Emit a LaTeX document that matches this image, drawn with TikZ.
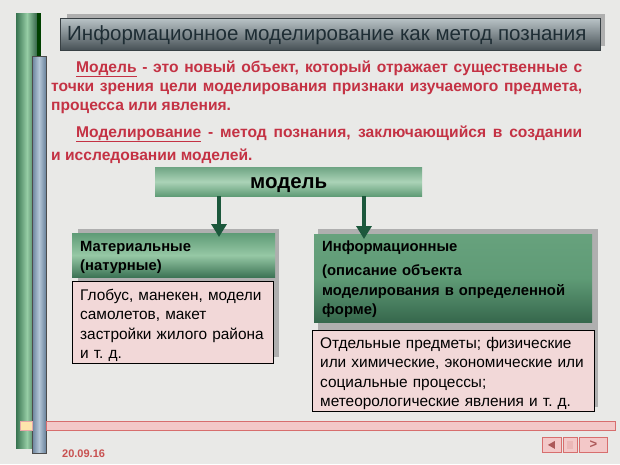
\documentclass[tikz,border=0pt]{standalone}
\usepackage{fontspec}
\setmainfont{Liberation Sans}
\usetikzlibrary{arrows.meta,calc}
\definecolor{bgc}{RGB}{233,233,231}
\definecolor{redtxt}{RGB}{196,50,68}
\definecolor{gtop}{RGB}{95,155,118}
\definecolor{gmid}{RGB}{150,200,165}
\definecolor{gbot}{RGB}{60,115,85}
\definecolor{garrow}{RGB}{28,88,60}
\definecolor{pinkc}{RGB}{242,216,216}
\definecolor{shadowc}{RGB}{175,175,175}
\definecolor{ttop}{RGB}{185,195,198}
\definecolor{tmid}{RGB}{128,138,142}
\definecolor{tbot}{RGB}{70,80,85}
\definecolor{ttxt}{RGB}{30,45,52}
\definecolor{barg1}{RGB}{55,115,80}
\definecolor{barg2}{RGB}{150,205,165}
\definecolor{barb1}{RGB}{105,130,155}
\definecolor{barb2}{RGB}{180,198,215}
\definecolor{linepink}{RGB}{243,200,200}
\definecolor{linered}{RGB}{215,110,110}
\definecolor{datec}{RGB}{200,80,80}
\tikzset{
  redline/.style={anchor=base west, inner sep=0pt, text=redtxt, font=\fontsize{15.6}{19}\selectfont\bfseries},
  header/.style={anchor=north west, draw=none, top color=gtop, bottom color=gbot, middle color=gmid,
     inner xsep=8pt, inner ysep=0pt, align=left, text=black,
     font=\fontsize{14.8}{19.5}\selectfont\bfseries},
  pinkbox/.style={anchor=north west, draw=black, line width=1.3pt, fill=pinkc,
     inner xsep=7pt, inner ysep=0pt, align=left, text=black,
     font=\fontsize{15.4}{19.5}\selectfont},
  arr/.style={draw=garrow, line width=4.5pt, -{Triangle[width=15pt,length=13pt]}},
  navbtn/.style={draw=linered, fill=linepink, line width=0.8pt}
}
\newcommand{\tstrut}[1]{\rule{0pt}{#1pt}}
\begin{document}
\begin{tikzpicture}[x=1pt,y=-1pt]
\useasboundingbox (0,0) rectangle (620,464);
\fill[bgc] (0,0) rectangle (620,464);

% left decorative bars
\shade[left color=barg1, right color=barg1!80!black, middle color=barg2] (16,13) rectangle (38,448);
\fill[black!75!green] (37,13) rectangle (41,448);
\shade[left color=barb1, right color=barb1, middle color=barb2, draw=black!70] (32,56) rectangle (46,453);

% bottom line
\fill[linepink, draw=linered, line width=0.8pt] (46,421) rectangle (615,430);
\fill[yellow!40!orange!30!white, draw=linered!60] (20,421) rectangle (32,430);

% title
\fill[shadowc] (67,14) rectangle (605,46);
\node[anchor=north west, minimum width=540pt, minimum height=32pt, inner sep=0pt,
      top color=ttop, bottom color=tbot, middle color=tmid, draw=tbot!80!black, line width=0.6pt] (titlebar) at (60,18) {};
\node[anchor=west, inner sep=0pt, text=ttxt, font=\fontsize{20.5}{24}\selectfont] (title) at ($(titlebar.west)+(7,1)$)
  {Информационное моделирование как метод познания};

% red definitions
\node[redline] (l1) at (76,72) {\makebox[506pt][s]{\underline{Модель} - это новый объект, который отражает существенные с}};
\node[redline] (l2) at (51,91) {\makebox[531pt][s]{точки зрения цели моделирования признаки изучаемого предмета,}};
\node[redline] (l3) at (51,110) {процесса или явления.};
\node[redline] (l4) at (76,137) {\makebox[506pt][s]{\underline{Моделирование} - метод познания, заключающийся в создании}};
\node[redline] (l5) at (51,160) {и исследовании моделей.};

% model box
\node[anchor=north west, minimum width=267pt, minimum height=29pt, inner sep=0pt,
      top color=gtop!90!white, bottom color=gtop, middle color=gmid!80!white] (model) at (155,167) {};
\node[inner sep=0pt, font=\fontsize{20.5}{22}\selectfont\bfseries, anchor=base] (modelt) at ($(model.center)+(0,7)$) {модель};

% shadows of headers
\fill[shadowc] (78,229) rectangle (279,357);
\fill[shadowc] (318,229) rectangle (598,407);

% headers
\node[header, minimum width=203pt, minimum height=44pt, text width=187pt] (mat) at (72,233)
  {\tstrut{15}Материальные\\(натурные)};
\node[header, minimum width=278pt, minimum height=88pt, text width=262pt,
      top color=gtop!85!gmid, bottom color=gbot!90!black, middle color=gtop] (inf) at (314,234)
  {\tstrut{13}Информационные\\[5pt](описание объекта\\моделирования в определенной\\форме)};

% pink boxes
\node[pinkbox, minimum width=201pt, minimum height=82pt, text width=186pt] (matex) at (72,281)
  {\tstrut{17}Глобус, манекен, модели\\самолетов, макет\\застройки жилого района\\и т.\ д.};
\node[pinkbox, minimum width=282pt, minimum height=81pt, text width=267pt] (infex) at (312,330)
  {\tstrut{16}Отдельные предметы; физические\\или химические, экономические или\\социальные процессы;\\метеорологические явления и т.\ д.};

% arrows
\coordinate (a1) at (219,0);
\coordinate (a2) at (364,0);
\draw[arr] (model.south -| a1) -- ([yshift=-4pt]mat.north -| a1);
\draw[arr] (model.south -| a2) -- ([yshift=-5pt]inf.north -| a2);

% date
\node[anchor=base west, inner sep=0pt, text=datec, font=\fontsize{11}{13}\selectfont\bfseries] (date) at (62,457) {20.09.16};

% nav buttons
\node[navbtn, anchor=north west, minimum width=19pt, minimum height=15pt, inner sep=0pt] (nb1) at (542,437) {};
\node[navbtn, anchor=north west, minimum width=14pt, minimum height=15pt, inner sep=0pt] (nb2) at (563,437) {};
\node[navbtn, anchor=north west, minimum width=28pt, minimum height=15pt, inner sep=0pt] (nb3) at (579,437) {};
\fill[linered!80!black] ($(nb1.center)+(-4,0)$) -- ($(nb1.center)+(3,-4)$) -- ($(nb1.center)+(3,4)$) -- cycle;
\fill[linered!50] ($(nb2.center)+(-3,-4)$) rectangle ($(nb2.center)+(3,4)$);
\node[inner sep=0pt, text=linered!80!black, font=\fontsize{13}{13}\selectfont\bfseries] (nb3t) at (nb3.center) {>};
\end{tikzpicture}
\end{document}
